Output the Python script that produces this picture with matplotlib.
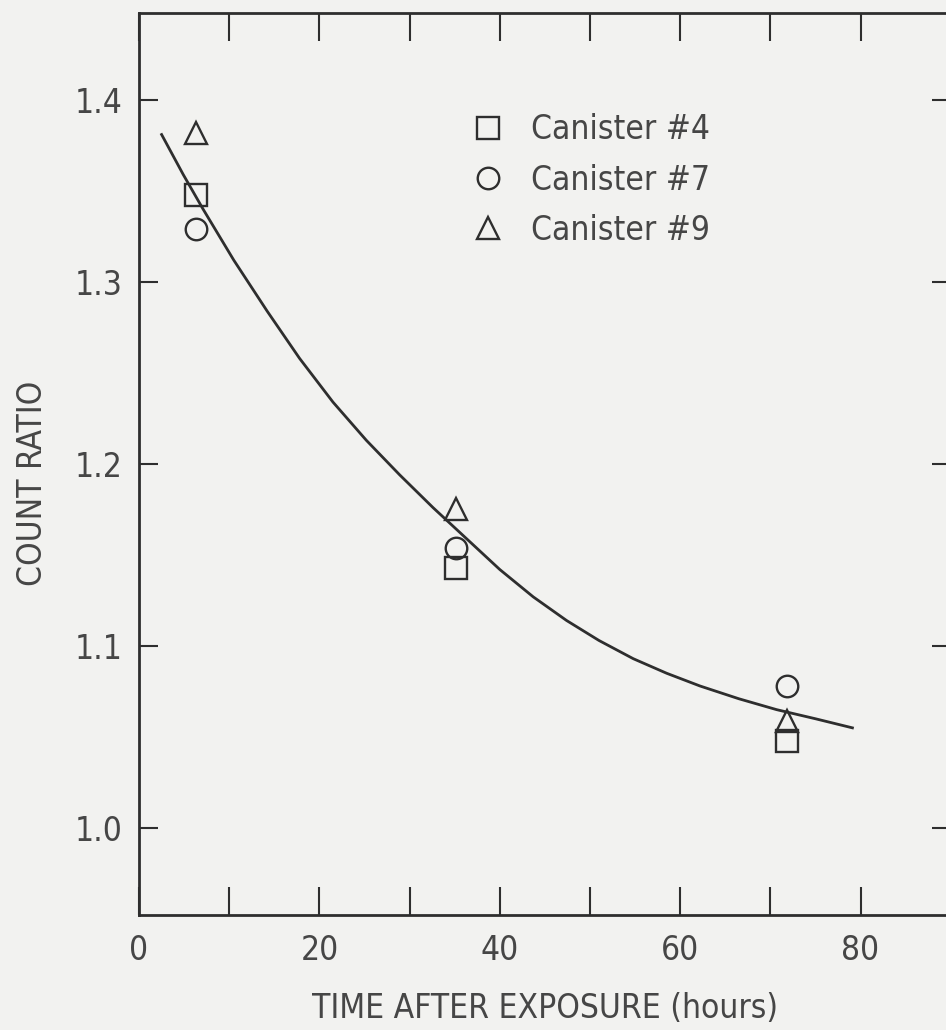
import numpy as np
import matplotlib.pyplot as plt
from matplotlib.ticker import MultipleLocator

plt.rcParams['font.family'] = ['DejaVu Sans']
plt.rcParams['font.stretch'] = 'condensed'

# measured points, one list per canister
hours = [6.3, 35.1, 71.9]
can4 = [1.348, 1.143, 1.048]
can7 = [1.329, 1.154, 1.078]
can9 = [1.382, 1.175, 1.059]

# fitted curve
fit_x = [2.5, 4.9, 7.1, 10.5, 14.2, 17.8, 21.5, 25.2, 28.9, 32.6, 36.3, 40.0,
         43.7, 47.4, 51.0, 54.8, 58.5, 62.2, 66.5, 70.7, 75.0, 79.1]
fit_y = [1.381, 1.359, 1.340, 1.312, 1.284, 1.258, 1.234, 1.213, 1.194, 1.176,
         1.159, 1.142, 1.127, 1.114, 1.103, 1.093, 1.085, 1.078, 1.071, 1.065,
         1.060, 1.055]

ink = '#2e2e2e'
txt = '#464646'
bg = '#f2f2f0'

fig = plt.figure(figsize=(9.46, 10.30), dpi=100, facecolor=bg)
ax = fig.add_axes([0.147, 0.1117, 0.858, 0.8757], facecolor=bg)

ax.plot(fit_x, fit_y, color=ink, lw=2.0)
mk = dict(ls='none', mfc='none', mec=ink, mew=1.7, ms=15.5)
ax.plot(hours, can4, marker='s', label='Canister #4', **mk)
ax.plot(hours, can7, marker='o', label='Canister #7', **mk)
ax.plot(hours, can9, marker='^', label='Canister #9', **mk)

ax.set_xlim(0, 90)
ax.set_ylim(0.9522, 1.4478)
ax.xaxis.set_major_locator(MultipleLocator(20))
ax.xaxis.set_minor_locator(MultipleLocator(10))
ax.set_yticks([1.0, 1.1, 1.2, 1.3, 1.4])
ax.set_yticklabels(['1.0', '1.1', '1.2', '1.3', '1.4'])
ax.tick_params(axis='x', which='both', direction='in', top=True, length=20,
               width=1.5, color=ink, labelsize=24, labelcolor=txt, pad=14)
ax.tick_params(axis='y', direction='in', right=True, length=14, width=1.5,
               color=ink, labelsize=24, labelcolor=txt, pad=12)
for s in ax.spines.values():
    s.set_color(ink)
    s.set_linewidth(2)

ax.set_xlabel('TIME AFTER EXPOSURE (hours)', fontsize=24, color=txt, labelpad=18)
ax.set_ylabel('COUNT RATIO', fontsize=24, color=txt)
ax.yaxis.set_label_coords(-0.111, 0.479)

leg = ax.legend(loc='upper left', bbox_to_anchor=(0.372, 0.922), frameon=False,
                fontsize=24, labelcolor=txt, numpoints=1, handlelength=1.0,
                handletextpad=0.8, labelspacing=0.52)

fig.savefig('out.png', dpi=100, facecolor=bg)
